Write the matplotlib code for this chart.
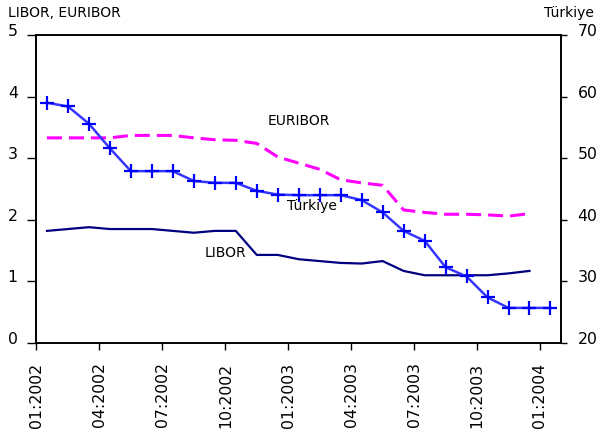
import matplotlib
matplotlib.use("Agg")
import matplotlib.pyplot as plt
from matplotlib.transforms import ScaledTranslation
import numpy as np

# Monthly observations, Jan 2002 - Jan 2004
tick_labels = ["01:2002", "04:2002", "07:2002", "10:2002", "01:2003",
               "04:2003", "07:2003", "10:2003", "01:2004"]
tick_months = [0, 3, 6, 9, 12, 15, 18, 21, 24]

turkiye = [59.0, 58.4, 55.6, 51.6, 47.9, 47.9, 47.9, 46.3, 46.0, 46.0, 44.7, 44.1,
           44.0, 44.0, 44.0, 43.2, 41.2, 38.2, 36.6, 32.3, 30.8, 27.4, 25.7, 25.7, 25.7]
libor = [1.82, 1.85, 1.88, 1.85, 1.85, 1.85, 1.82, 1.79, 1.82, 1.82, 1.43, 1.43,
         1.36, 1.33, 1.30, 1.29, 1.33, 1.17, 1.10, 1.10, 1.10, 1.10, 1.13, 1.17]
euribor = [3.33, 3.33, 3.33, 3.33, 3.37, 3.37, 3.37, 3.33, 3.30, 3.29, 3.24, 3.02,
           2.92, 2.82, 2.65, 2.60, 2.56, 2.16, 2.12, 2.09, 2.09, 2.08, 2.06, 2.10]

label_size = 10

fig = plt.figure(figsize=(5.96, 4.32), dpi=100)
ax = fig.add_axes([0.0612, 0.206, 0.88, 0.713])
ax2 = ax.twinx()

x_t = np.arange(len(turkiye)) + 0.5
x_l = np.arange(len(libor)) + 0.5
x_e = np.arange(len(euribor)) + 0.5

ax.plot(x_l, libor, color="#000080", lw=1.6, zorder=3)
ax.plot(x_e, euribor, color="#ff00ff", lw=2.2, dashes=(4.9, 2.3), zorder=4)
ax2.plot(x_t, turkiye, color="#3535ff", lw=1.8, marker="+", markersize=10,
         markeredgewidth=1.6, markeredgecolor="#0000ff", zorder=3)

ax.set_xlim(0, 25)
ax.set_ylim(0, 5)
ax2.set_ylim(20, 70)

ax.set_xticks(tick_months)
ax.set_xticklabels(tick_labels, rotation=90, fontsize=11.3)
ax.set_yticks(range(0, 6))
ax.set_yticklabels([str(v) for v in range(0, 6)], fontsize=11.3)
ax2.set_yticks(range(20, 80, 10))
ax2.set_yticklabels([str(v) for v in range(20, 80, 10)], fontsize=11.3)

for a in (ax, ax2):
    for s in a.spines.values():
        s.set_linewidth(1.2)
        s.set_color("black")

ax.tick_params(axis="y", direction="out", length=6.5, width=1.0, pad=7)
ax.tick_params(axis="x", direction="out", length=5, width=1.0, pad=9)
ax2.tick_params(axis="y", direction="out", length=4, width=1.0, pad=8)

# nudge the value labels slightly above their tick marks
shift = ScaledTranslation(0, 5 / 100, fig.dpi_scale_trans)
for lab in ax.get_yticklabels() + ax2.get_yticklabels():
    lab.set_transform(lab.get_transform() + shift)

# series labels inside the plot
fig.text(299 / 596, 1 - 121 / 432, "EURIBOR", fontsize=label_size,
         ha="center", va="center")
fig.text(311.7 / 596, 1 - 206 / 432, "Türkiye", fontsize=label_size,
         ha="center", va="center")
fig.text(225 / 596, 1 - 253 / 432, "LIBOR", fontsize=label_size,
         ha="center", va="center")

# axis titles
fig.text(8 / 596, 1 - 13 / 432, "LIBOR, EURIBOR", fontsize=label_size,
         ha="left", va="center")
fig.text(544 / 596, 1 - 13 / 432, "Türkiye", fontsize=label_size,
         ha="left", va="center")

fig.savefig("out.png", dpi=100)
